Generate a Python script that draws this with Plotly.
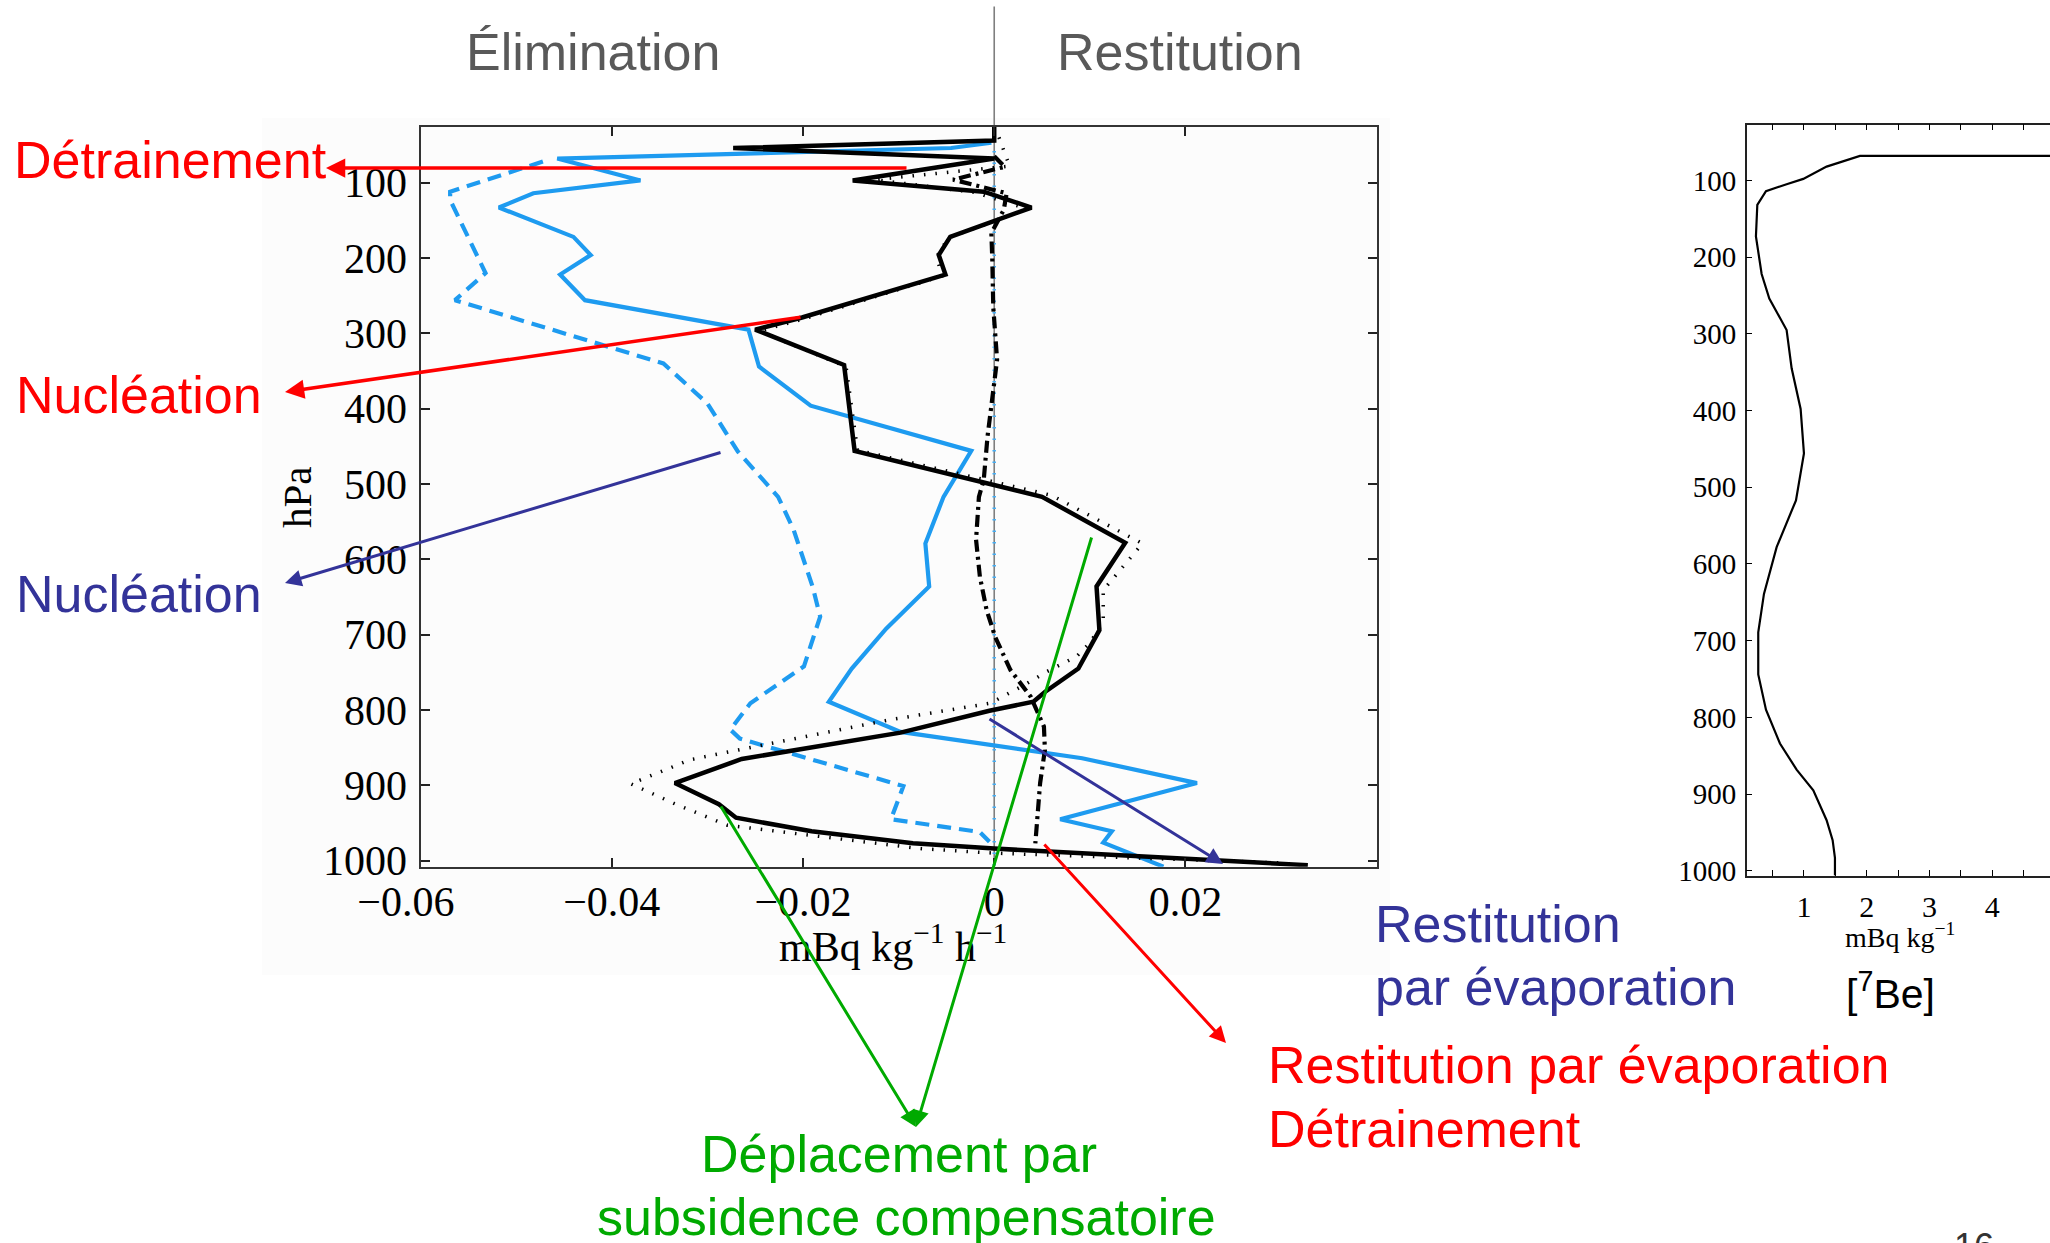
import plotly.graph_objects as go

W, H = 2050, 1243

# ---------------- tendency profiles (mBq kg-1 h-1) vs pressure (hPa) ----------------
black_solid_x = [0.0, 0.0, -0.0273, 0.0, -0.0148, -0.0011, 0.0039, -0.0046, -0.0058, -0.0051,
                 -0.0201, -0.0250, -0.0157, -0.0146, 0.0050, 0.0137, 0.0107, 0.0110, 0.0088,
                 0.0053, 0.0041, -0.0005, -0.0098, -0.0264, -0.0334, -0.0288, -0.0270, -0.0191,
                 -0.0085, 0.0, 0.0328]
black_solid_p = [26, 44, 54, 68, 97, 112, 133, 172, 196, 222,
                 279, 295, 342, 456, 517, 578, 636, 694, 745,
                 776, 789, 801, 830, 865, 897, 925, 943, 961,
                 977, 984, 1006]

black_dotted_x = [0.0005, 0.0016, -0.0125, -0.0020, 0.0035, -0.0048, -0.0060, -0.0055, -0.0200,
                  -0.0246, -0.0155, -0.0143, 0.0060, 0.0155, 0.0114, 0.0114, 0.0100, 0.0086,
                  0.0055, 0.0034, -0.0004, -0.0109, -0.0252, -0.0318, -0.0380, -0.0335,
                  -0.0279, -0.0182, -0.0077, 0.0, 0.0300]
black_dotted_p = [40, 78, 96, 113, 135, 173, 198, 224, 281,
                  297, 344, 455, 515, 579, 641, 683, 711, 729,
                  749, 765, 791, 813, 849, 866, 898, 924,
                  953, 968, 984, 990, 1003]

black_dashdot_x = [0.0, 0.0011, -0.0043, -0.0008, 0.0013, 0.0010, -0.0003, -0.0002, -0.0001,
                   0.0003, -0.0002, -0.0007, -0.0011, -0.0016, -0.0019, -0.0015, -0.0008,
                   0.0001, 0.0017, 0.0038, 0.0052, 0.0053, 0.0048, 0.0045, 0.0043]
black_dashdot_p = [65, 79, 96, 108, 114, 136, 167, 203, 265,
                   335, 384, 437, 495, 517, 574, 623, 667,
                   703, 747, 782, 822, 853, 897, 944, 977]

blue_solid_x = [-0.0003, -0.0045, -0.0457, -0.0370, -0.0482, -0.0518, -0.0440, -0.0422, -0.0454,
                -0.0428, -0.0257, -0.0246, -0.0192, -0.0024, -0.0053, -0.0072, -0.0068,
                -0.0113, -0.0149, -0.0173, -0.0098, 0.0092, 0.0212, 0.0069, 0.0123, 0.0114,
                0.0177]
blue_solid_p = [47, 54, 68, 97, 114, 133, 172, 196, 222,
                256, 295, 344, 396, 456, 517, 579, 636,
                692, 745, 789, 829, 864, 897, 945, 961, 976,
                1008]

blue_dashed_x = [-0.0472, -0.0569, -0.0569, -0.0532, -0.0564, -0.0419, -0.0346, -0.0300, -0.0285,
                 -0.0268, -0.0226, -0.0210, -0.0190, -0.0182, -0.0199, -0.0255, -0.0276,
                 -0.0266, -0.0095, -0.0108, -0.0015, -0.0005]
blue_dashed_p = [72, 112, 123, 220, 256, 311, 340, 393, 424,
                 457, 517, 560, 636, 676, 742, 791, 826,
                 838, 901, 945, 962, 975]

blue_dotted_x = [0.0, 0.0]
blue_dotted_p = [58, 1008]

x_tick_vals = [-0.06, -0.04, -0.02, 0.0, 0.02]
x_tick_text = ["\u22120.06\u2007\u2009", "\u22120.04", "\u22120.02", "0", "0.02"]
p_tick_vals = [100, 200, 300, 400, 500, 600, 700, 800, 900, 1000]

# ---------------- [7Be] concentration profile (mBq kg-1) ----------------
be_x = [5.2, 1.892, 1.361, 0.989, 0.724, 0.395, 0.257, 0.235, 0.326, 0.448, 0.724, 0.804,
        0.947, 1.0, 0.873, 0.565, 0.363, 0.272, 0.272, 0.395, 0.618, 0.883, 1.149, 1.361,
        1.457, 1.494, 1.494]
be_p = [68, 68, 82, 98, 105, 114, 132, 173, 222, 254, 295, 345,
        398, 456, 517, 578, 639, 689, 744, 790, 834, 868, 895, 934,
        960, 983, 1006]
be_tick_vals = [0.5, 1, 1.5, 2, 2.5, 3, 3.5, 4, 4.5]
be_tick_text = ["", "1", "", "2", "", "3", "", "4", ""]

BLUE = "#1E9BF0"
NAVY = "#333399"
RED = "#FF0000"
GREEN = "#00AA00"
SERIF = "Liberation Serif"
SANS = "Liberation Sans"


def fx(x):
    return x / W


def fy(y):
    return 1 - y / H


# panel boxes in page pixels
MAIN_L, MAIN_R, MAIN_T, MAIN_B = 420.5, 1376.7, 126.7, 866.7
BE_L, BE_T, BE_B = 1746.7, 124.7, 875.7
MAIN_XR = [-0.06, 0.04]
MAIN_PR = [1008, 25.7]
BE_XR = [0.088, 4.92]
BE_PR = [1006.3, 27.4]

fig = go.Figure()

fig.add_trace(go.Scatter(x=blue_dotted_x, y=blue_dotted_p, mode="lines",
                         line=dict(color="#45AEF5", width=3.5, dash="1.5px,10px")))
fig.add_trace(go.Scatter(x=blue_solid_x, y=blue_solid_p, mode="lines",
                         line=dict(color=BLUE, width=4.2)))
fig.add_trace(go.Scatter(x=blue_dashed_x, y=blue_dashed_p, mode="lines",
                         line=dict(color=BLUE, width=4.2, dash="14px,8px")))
fig.add_trace(go.Scatter(x=black_dashdot_x, y=black_dashdot_p, mode="lines",
                         line=dict(color="black", width=4.2, dash="12px,5px,3px,5px")))
fig.add_trace(go.Scatter(x=black_solid_x, y=black_solid_p, mode="lines",
                         line=dict(color="black", width=4.5)))
fig.add_trace(go.Scatter(x=black_dotted_x, y=black_dotted_p, mode="lines",
                         line=dict(color="black", width=3.5, dash="1.5px,10px")))

fig.add_trace(go.Scatter(x=be_x, y=be_p, mode="lines", xaxis="x2", yaxis="y2",
                         line=dict(color="black", width=2.2)))

axis_common = dict(showgrid=False, zeroline=False, showline=True, ticks="inside",
                   automargin=False)

fig.update_layout(
    width=W, height=H,
    margin=dict(l=0, r=0, t=0, b=0, pad=0, autoexpand=False),
    paper_bgcolor="white",
    plot_bgcolor="rgba(0,0,0,0)",
    showlegend=False,
    xaxis=dict(domain=[fx(MAIN_L), fx(MAIN_R)], range=MAIN_XR, anchor="y", mirror="ticks",
               tickvals=x_tick_vals, ticktext=x_tick_text, ticklen=9, tickwidth=1.5,
               tickcolor="#222", linecolor="#333", linewidth=2,
               tickfont=dict(family=SERIF, size=42, color="black"),
               ticklabelstandoff=-3, **axis_common),
    yaxis=dict(domain=[fy(MAIN_B), fy(MAIN_T)], range=MAIN_PR, anchor="x", mirror="ticks",
               tickvals=p_tick_vals, ticklen=9, tickwidth=1.5, tickcolor="#222",
               linecolor="#333", linewidth=2,
               tickfont=dict(family=SERIF, size=42, color="black"),
               ticklabelstandoff=3, **axis_common),
    xaxis2=dict(domain=[fx(BE_L), 1.0], range=BE_XR, anchor="y2", mirror="ticks",
                tickvals=be_tick_vals, ticktext=be_tick_text, ticklen=6, tickwidth=1.2,
                tickcolor="black", linecolor="#222", linewidth=1.5,
                tickfont=dict(family=SERIF, size=30, color="black"),
                ticklabelstandoff=4, **axis_common),
    yaxis2=dict(domain=[fy(BE_B), fy(BE_T)], range=BE_PR, anchor="x2", mirror=False,
                tickvals=p_tick_vals, ticklen=6, tickwidth=1.2, tickcolor="black",
                linecolor="#222", linewidth=1.5,
                tickfont=dict(family=SERIF, size=29, color="black"),
                ticklabelstandoff=3, **axis_common),
    # right-hand ticks of the [7Be] panel, whose frame runs past the page edge
    yaxis3=dict(domain=[fy(BE_B), fy(BE_T)], range=BE_PR, overlaying="y2", side="right",
                anchor="x2", tickvals=p_tick_vals, ticks="inside", ticklen=9, tickwidth=1.5,
                tickcolor="black", showticklabels=False, showline=False, showgrid=False,
                zeroline=False, automargin=False),
)

# page position of the zero line of the main panel
zero_px = MAIN_L + (0 - MAIN_XR[0]) / (MAIN_XR[1] - MAIN_XR[0]) * (MAIN_R - MAIN_L)

fig.add_shape(type="rect", xref="paper", yref="paper", layer="below",
              x0=fx(262), x1=fx(1390), y0=fy(975), y1=fy(118),
              fillcolor="#fcfcfc", line=dict(width=0))
fig.add_shape(type="line", xref="paper", yref="paper", layer="below",
              x0=fx(zero_px), x1=fx(zero_px), y0=fy(6.5), y1=fy(MAIN_B),
              line=dict(color="#7f7f7f", width=1.6))

annotations = []


def label(text, x, baseline, size, color, anchor="left", family=SANS, angle=0):
    annotations.append(dict(
        text=text, x=fx(x), y=fy(baseline - 0.345 * size), xref="paper", yref="paper",
        xanchor=anchor, yanchor="middle", showarrow=False, textangle=angle,
        font=dict(family=family, size=size, color=color)))


def arrow(x0, y0, x1, y1, color, width=3.2, size=1.1):
    annotations.append(dict(
        text="", x=fx(x1), y=fy(y1), xref="paper", yref="paper",
        ax=x0 - x1, ay=y0 - y1, axref="pixel", ayref="pixel",
        showarrow=True, arrowhead=2, arrowsize=size, arrowwidth=width,
        arrowcolor=color, standoff=0, startstandoff=0))


# headings
label("Élimination", 593, 70, 52, "#595959", anchor="center")
label("Restitution", 1180, 70, 52, "#595959", anchor="center")

# process labels
label("Détrainement", 12, 178, 52, RED)
label("Nucléation", 14, 413, 52, RED)
label("Nucléation", 14, 612, 52, NAVY)
label("Restitution", 1373, 942, 52, NAVY)
label("par évaporation", 1373, 1005, 52, NAVY)
label("[<sup>7</sup>Be]", 1844, 1005, 41, "black")
label("Restitution par évaporation", 1266, 1083, 52, RED)
label("Détrainement", 1266, 1147, 52, RED)
label("Déplacement par", 899, 1172, 52, GREEN, anchor="center")
label("subsidence compensatoire", 906, 1235, 52, GREEN, anchor="center")
label("16", 1952, 1259, 36, "#333333")

# axis titles
label("mBq kg<sup>\u22121</sup> h<sup>\u22121</sup>", 893, 958, 42, "black",
      anchor="center", family=SERIF)
annotations.append(dict(text="hPa", x=fx(297), y=fy(497), xref="paper", yref="paper",
                        xanchor="center", yanchor="middle", showarrow=False, textangle=-90,
                        font=dict(family=SERIF, size=41, color="black")))
label("mBq kg<sup>\u22121</sup>", 1900, 945, 28, "black", anchor="center", family=SERIF)

# arrows
arrow(908, 168, 326, 168, RED, 3.5)
arrow(802, 317, 285, 392, RED, 3.5)
arrow(722, 452, 285, 583, NAVY, 3.0)
arrow(988, 718, 1223, 864, NAVY, 3.0)
arrow(1043, 843, 1226, 1043, RED, 3.0)
arrow(720, 805, 916, 1127, GREEN, 3.0)
arrow(1092, 536, 916, 1127, GREEN, 3.0)

fig.update_layout(annotations=annotations)

fig.write_html("out.html")
